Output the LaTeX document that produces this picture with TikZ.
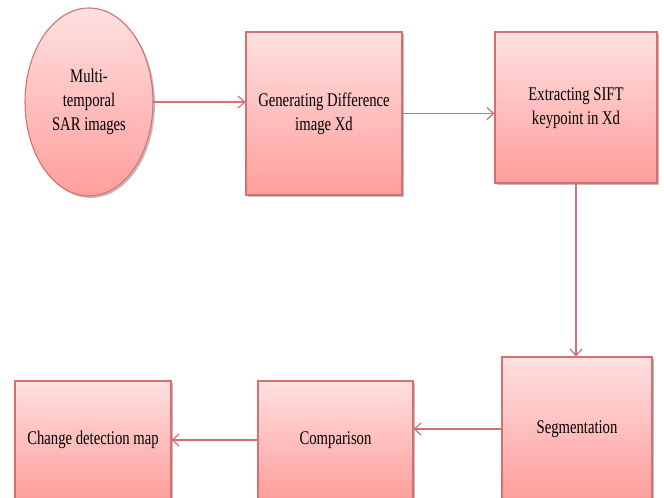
\documentclass[tikz,border=0pt]{standalone}
\usepackage{fontspec}
\setmainfont{Liberation Serif}
\usetikzlibrary{arrows.meta,shapes.geometric,shadows}
\definecolor{edgec}{RGB}{212,112,114}
\definecolor{topc}{RGB}{255,224,224}
\definecolor{botc}{RGB}{255,158,156}
\newcommand\lbl[1]{\scalebox{0.76}[1]{\begin{tabular}{@{}c@{}}#1\end{tabular}}}
\tikzset{
  stepbox/.style={draw=edgec, line width=0.8pt, top color=topc, bottom color=botc,
    inner sep=0pt, font=\fontsize{14.5}{18}\selectfont,
    drop shadow={shadow xshift=1.5pt, shadow yshift=-1.5pt, fill=black, opacity=0.25}},
  flow/.style={draw=edgec, line width=0.9pt, -{Straight Barb[length=5pt,width=9pt]}}
}
\begin{document}
\begin{tikzpicture}[x=0.75pt,y=-0.75pt]
\useasboundingbox (0,0) rectangle (664,497);
\clip (0,0) rectangle (664,497);
\node[stepbox, ellipse, minimum width=96pt, minimum height=141pt] (e) at (89,102) {\lbl{Multi-\\temporal\\SAR images}};
\node[stepbox, rectangle, minimum width=117pt, minimum height=122.25pt] (g) at (324,113.5) {\lbl{Generating Difference\\image Xd}};
\node[stepbox, rectangle, minimum width=121.5pt, minimum height=113.25pt] (x) at (576,107.5) {\lbl{Extracting SIFT\\keypoint in Xd}};
\node[stepbox, rectangle, minimum width=112.5pt, minimum height=108pt] (s) at (577,429) {\lbl{Segmentation}};
\node[stepbox, rectangle, minimum width=116.25pt, minimum height=88.5pt] (c) at (335.5,440) {\lbl{Comparison}};
\node[stepbox, rectangle, minimum width=117pt, minimum height=88.5pt] (m) at (93,440) {\lbl{Change detection map}};
\draw[flow] (e.east) -- (e.east -| g.west);
\draw[flow] (g.east) -- (g.east -| x.west);
\draw[flow] (x.south) -- (x.south |- s.north);
\draw[flow] (s.west) -- (s.west -| c.east);
\draw[flow] (c.west) -- (c.west -| m.east);
\end{tikzpicture}
\end{document}
